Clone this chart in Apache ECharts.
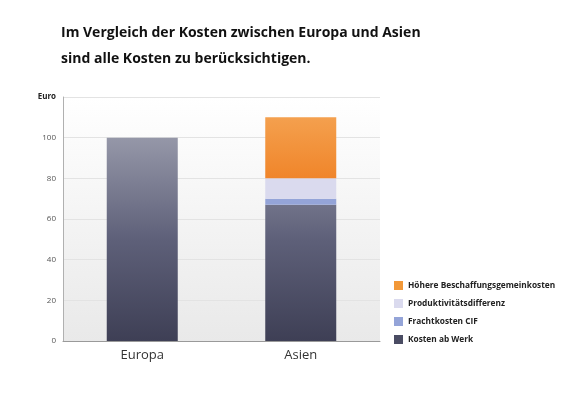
<!DOCTYPE html>
<html>
<head>
    <meta charset="utf-8">
    <script type="text/javascript" src="https://cdn.jsdelivr.net/npm/echarts@6/dist/echarts.min.js"></script>
    <style type="text/css">
        *{
            margin: 0;
            padding: 0;
        }
        body{
            background: #fff;
        }
        #main{
            width: 583px;
            height: 400px;
        }
    </style>
</head>
<body>
<div id="main"></div>
<script type="text/javascript">
    // Daten
    var regionen = ['Europa', 'Asien'];
    var kostenAbWerk = [100, 67];
    var frachtkosten = [null, 3];
    var produktivitaet = [null, 10];
    var beschaffung = [null, 30];
    var legendNamen = ['Höhere Beschaffungsgemeinkosten', 'Produktivitätsdifferenz', 'Frachtkosten CIF', 'Kosten ab Werk'];

    var fontName = '"Open Sans", "Noto Sans", sans-serif';

    var dunkel = {
        type: 'linear', x: 0, y: 138, x2: 0, y2: 341, global: true,
        colorStops: [{offset: 0, color: '#9597a8'}, {offset: 0.5, color: '#5e6079'}, {offset: 1, color: '#3e3f55'}]
    };
    var orange = {
        type: 'linear', x: 0, y: 0, x2: 0, y2: 1,
        colorStops: [{offset: 0, color: '#f4a04e'}, {offset: 1, color: '#f0852a'}]
    };

    var myChart = echarts.init(document.getElementById('main'));
    var option = {
        backgroundColor: '#fff',
        animation: false,
        title: {
            text: 'Im Vergleich der Kosten zwischen Europa und Asien\nsind alle Kosten zu berücksichtigen.',
            left: 61,
            top: 20,
            padding: 0,
            textStyle: {
                fontFamily: fontName,
                fontSize: 14,
                fontWeight: 'bold',
                color: '#111',
                lineHeight: 26
            }
        },
        legend: {
            orient: 'vertical',
            left: 389,
            top: 276,
            itemWidth: 9,
            itemHeight: 9,
            itemGap: 9,
            icon: 'rect',
            textStyle: {
                fontFamily: fontName,
                fontSize: 8.3,
                fontWeight: 'bold',
                color: '#222'
            },
            data: [
                {name: legendNamen[0], itemStyle: {color: '#f29838'}},
                {name: legendNamen[1], itemStyle: {color: '#dadaee'}},
                {name: legendNamen[2], itemStyle: {color: '#94a4d8'}},
                {name: legendNamen[3], itemStyle: {color: '#4a4c63'}}
            ]
        },
        grid: {
            left: 63,
            right: 203,
            top: 97,
            bottom: 59,
            show: true,
            borderWidth: 0,
            backgroundColor: {
                type: 'linear', x: 0, y: 0, x2: 0, y2: 1,
                colorStops: [{offset: 0, color: '#ffffff'}, {offset: 1, color: '#e9e9e9'}]
            }
        },
        xAxis: {
            type: 'category',
            data: regionen,
            axisLine: {lineStyle: {color: '#9a9a9a', width: 1}},
            axisTick: {show: false},
            axisLabel: {
                fontFamily: fontName,
                fontSize: 13,
                color: '#333',
                margin: 8
            }
        },
        yAxis: {
            type: 'value',
            min: 0,
            max: 120,
            interval: 20,
            axisLine: {show: true, lineStyle: {color: '#b0b0b0', width: 1}},
            axisTick: {show: false},
            splitLine: {lineStyle: {color: '#e3e3e3'}},
            axisLabel: {
                fontFamily: fontName,
                fontSize: 8,
                color: '#555',
                margin: 7,
                formatter: function (v) {
                    return v === 120 ? '{e|Euro}' : v;
                },
                rich: {
                    e: {fontFamily: fontName, fontSize: 8, fontWeight: 'bold', color: '#222'}
                }
            }
        },
        series: [
            {
                name: legendNamen[3],
                type: 'bar',
                stack: 'k',
                barWidth: 71,
                data: kostenAbWerk,
                itemStyle: {color: dunkel}
            },
            {
                name: legendNamen[2],
                type: 'bar',
                stack: 'k',
                data: frachtkosten,
                itemStyle: {color: '#94a4d8'}
            },
            {
                name: legendNamen[1],
                type: 'bar',
                stack: 'k',
                data: produktivitaet,
                itemStyle: {color: '#dadaee'}
            },
            {
                name: legendNamen[0],
                type: 'bar',
                stack: 'k',
                data: beschaffung,
                itemStyle: {color: orange}
            }
        ]
    };
    myChart.setOption(option);
</script>
</body>
</html>
